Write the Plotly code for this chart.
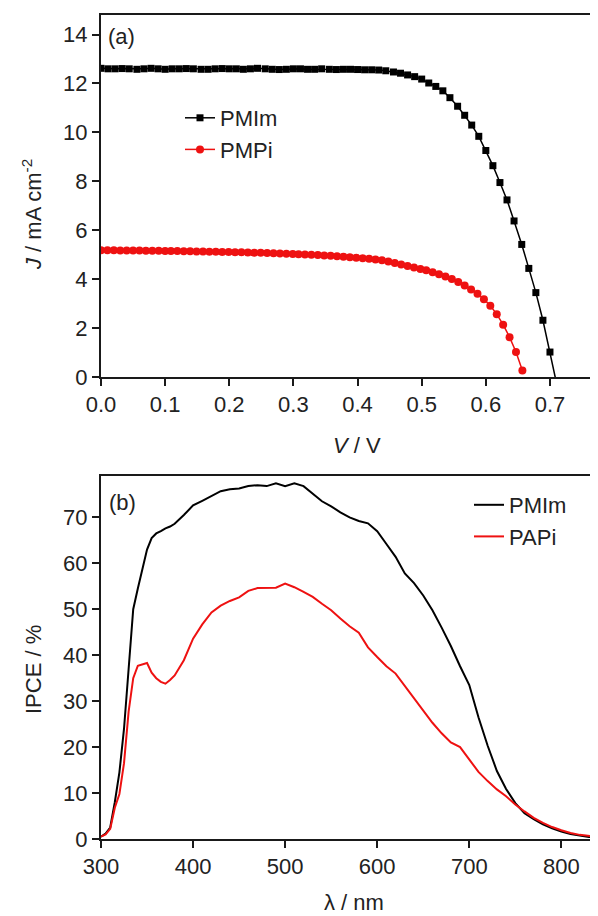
import plotly.graph_objects as go

# ---------------- Data: panel (a) J-V curves ----------------
V_PMIm = [0.000, 0.011, 0.022, 0.033, 0.044, 0.056, 0.067, 0.078, 0.089, 0.100,
          0.111, 0.122, 0.133, 0.144, 0.156, 0.167, 0.178, 0.189, 0.200, 0.211,
          0.222, 0.233, 0.244, 0.256, 0.267, 0.278, 0.289, 0.300, 0.311, 0.322,
          0.333, 0.344, 0.356, 0.367, 0.378, 0.389, 0.400, 0.411, 0.422, 0.433,
          0.444, 0.456, 0.467, 0.478, 0.489, 0.500, 0.511, 0.522, 0.533, 0.544,
          0.556, 0.567, 0.578, 0.589, 0.600, 0.611, 0.622, 0.633, 0.644, 0.656,
          0.667, 0.678, 0.689, 0.700, 0.711]
J_PMIm = [12.62, 12.60, 12.60, 12.61, 12.60, 12.58, 12.60, 12.62, 12.60, 12.58,
          12.60, 12.60, 12.61, 12.60, 12.58, 12.58, 12.60, 12.61, 12.60, 12.60,
          12.58, 12.60, 12.62, 12.60, 12.58, 12.57, 12.58, 12.60, 12.60, 12.58,
          12.58, 12.60, 12.58, 12.57, 12.58, 12.58, 12.57, 12.56, 12.56, 12.55,
          12.52, 12.47, 12.42, 12.35, 12.28, 12.18, 12.02, 11.88, 11.70, 11.42,
          11.07, 10.70, 10.30, 9.84, 9.26, 8.64, 7.95, 7.24, 6.38, 5.42,
          4.44, 3.45, 2.32, 1.02, -0.35]

V_PMPi = [0.000, 0.010, 0.020, 0.030, 0.040, 0.050, 0.060, 0.070, 0.080, 0.090,
          0.100, 0.109, 0.119, 0.129, 0.139, 0.149, 0.159, 0.169, 0.179, 0.189,
          0.199, 0.209, 0.219, 0.229, 0.239, 0.249, 0.259, 0.269, 0.279, 0.289,
          0.299, 0.308, 0.318, 0.328, 0.338, 0.348, 0.358, 0.368, 0.378, 0.388,
          0.398, 0.408, 0.418, 0.428, 0.438, 0.448, 0.458, 0.468, 0.478, 0.488,
          0.498, 0.507, 0.517, 0.527, 0.537, 0.547, 0.557, 0.567, 0.577, 0.587,
          0.597, 0.607, 0.617, 0.627, 0.637, 0.647, 0.657]
J_PMPi = [5.18, 5.18, 5.18, 5.17, 5.17, 5.17, 5.17, 5.16, 5.16, 5.16,
          5.15, 5.15, 5.15, 5.14, 5.14, 5.13, 5.13, 5.12, 5.12, 5.11,
          5.11, 5.10, 5.10, 5.09, 5.08, 5.08, 5.07, 5.06, 5.05, 5.04,
          5.03, 5.02, 5.01, 5.00, 4.99, 4.97, 4.96, 4.94, 4.92, 4.90,
          4.88, 4.86, 4.83, 4.80, 4.77, 4.72, 4.66, 4.60, 4.54, 4.48,
          4.42, 4.36, 4.28, 4.20, 4.11, 4.01, 3.88, 3.74, 3.58, 3.40,
          3.18, 2.91, 2.57, 2.14, 1.63, 1.02, 0.27]

# ---------------- Data: panel (b) IPCE spectra ----------------
wavelength = [300, 305, 310, 315, 320, 325, 330, 335, 340, 345, 350, 355, 360,
              365, 370, 375, 380, 390, 400, 410, 420, 430, 440, 450, 460, 470,
              480, 490, 500, 510, 520, 530, 540, 550, 560, 570, 580, 590, 600,
              610, 620, 630, 640, 650, 660, 670, 680, 690, 700, 710, 720, 730,
              740, 750, 760, 770, 780, 790, 800, 810, 820, 830, 840]
IPCE_PMIm = [0.5, 1.2, 2.5, 8.0, 14.5, 24.0, 37.0, 50.0, 54.5, 59.0, 63.0, 65.5, 66.5,
             67.0, 67.6, 68.0, 68.6, 70.5, 72.6, 73.6, 74.6, 75.7, 76.1, 76.3, 76.8, 77.0,
             76.8, 77.4, 76.8, 77.4, 76.8, 75.2, 73.5, 72.4, 71.1, 70.0, 69.2, 68.7, 67.0,
             64.2, 61.4, 57.8, 55.7, 53.0, 49.8, 46.0, 42.0, 37.6, 33.5, 26.5, 20.3, 14.8,
             10.9, 7.8, 5.6, 4.3, 3.2, 2.3, 1.6, 1.1, 0.7, 0.45, 0.3]
IPCE_PAPi = [0.5, 1.0, 2.2, 6.8, 9.8, 16.5, 27.7, 35.0, 37.7, 38.0, 38.3, 36.2, 35.0,
             34.2, 33.8, 34.6, 35.6, 38.9, 43.6, 46.7, 49.3, 50.8, 51.8, 52.6, 54.0, 54.6,
             54.7, 54.7, 55.6, 54.8, 53.8, 52.7, 51.2, 49.8, 48.0, 46.3, 44.9, 41.7, 39.6,
             37.6, 36.0, 33.3, 30.6, 28.0, 25.3, 23.0, 21.0, 20.0, 17.2, 14.6, 12.6, 10.8,
             9.3, 7.5, 6.0, 4.6, 3.5, 2.6, 1.9, 1.3, 0.9, 0.65, 0.5]

# The page body offsets the figure slightly, so the figure is drawn that much
# smaller and every intended screen position is shifted by the offset.
OFF = 6
W, H = 598 - OFF, 916 - OFF
FONT = "Arial, Liberation Sans, sans-serif"
AX = "#1a1a1a"
RED = "#ee1111"
FS = 22


def px_x(p):
    return (p - OFF) / W


def px_y(p):
    return 1 - (p - OFF) / H


fig = go.Figure()
fig.add_trace(go.Scatter(
    x=V_PMIm, y=J_PMIm, mode="lines+markers", name="PMIm",
    line=dict(color="black", width=1.5),
    marker=dict(symbol="square", size=7, color="black"),
    xaxis="x", yaxis="y", legend="legend"))
fig.add_trace(go.Scatter(
    x=V_PMPi, y=J_PMPi, mode="lines+markers", name="PMPi",
    line=dict(color=RED, width=1.5),
    marker=dict(symbol="circle", size=8, color=RED),
    xaxis="x", yaxis="y", legend="legend"))
fig.add_trace(go.Scatter(
    x=wavelength, y=IPCE_PMIm, mode="lines", name="PMIm",
    line=dict(color="black", width=2),
    xaxis="x2", yaxis="y2", legend="legend2"))
fig.add_trace(go.Scatter(
    x=wavelength, y=IPCE_PAPi, mode="lines", name="PAPi",
    line=dict(color=RED, width=2),
    xaxis="x2", yaxis="y2", legend="legend2"))

common = dict(showline=True, linecolor=AX, linewidth=2, ticks="outside",
              ticklen=7, tickwidth=1.5, tickcolor=AX, showgrid=False,
              zeroline=False, automargin=False,
              tickfont=dict(size=FS, color="#222", family=FONT))

xdom = [px_x(99), 1.0]
fig.update_layout(
    width=W, height=H,
    margin=dict(l=0, r=0, t=0, b=0, autoexpand=False),
    paper_bgcolor="white", plot_bgcolor="white",
    font=dict(family=FONT, color="#222", size=FS),
    xaxis=dict(domain=xdom, anchor="y", range=[0, 0.778], dtick=0.1,
               tickformat=".1f", mirror=True, **common),
    yaxis=dict(domain=[px_y(375), px_y(13)], anchor="x", range=[0, 14.8],
               dtick=2, **common),
    xaxis2=dict(domain=xdom, anchor="y2", range=[300, 842], dtick=100,
                mirror=True, **common),
    yaxis2=dict(domain=[px_y(837), px_y(474)], anchor="x2", range=[0, 79],
                tickvals=[0, 10, 20, 30, 40, 50, 60, 70], **common),
    legend=dict(x=px_x(178), y=px_y(95), xanchor="left", yanchor="top",
                bgcolor="rgba(0,0,0,0)", font=dict(size=FS, color="#222")),
    legend2=dict(x=px_x(467), y=px_y(482), xanchor="left", yanchor="top",
                 bgcolor="rgba(0,0,0,0)", font=dict(size=FS, color="#222")),
    showlegend=True,
)

ann = [
    dict(text="(a)", x=px_x(104), y=px_y(34), xanchor="left", yanchor="middle"),
    dict(text="(b)", x=px_x(105), y=px_y(501), xanchor="left", yanchor="middle"),
    dict(text="<i>V</i> / V", x=px_x(355), y=px_y(443), xanchor="center", yanchor="middle"),
    dict(text="λ / nm", x=px_x(352), y=px_y(900), xanchor="center", yanchor="middle"),
    dict(text="<i>J</i> / mA cm<sup>-2</sup>", x=px_x(30), y=px_y(213),
         xanchor="center", yanchor="middle", textangle=-90),
    dict(text="IPCE / %", x=px_x(31), y=px_y(668), xanchor="center",
         yanchor="middle", textangle=-90),
]
for a in ann:
    a.update(xref="paper", yref="paper", showarrow=False,
             font=dict(size=FS, color="#222", family=FONT))
fig.update_layout(annotations=ann)

fig.write_html("out.html")
